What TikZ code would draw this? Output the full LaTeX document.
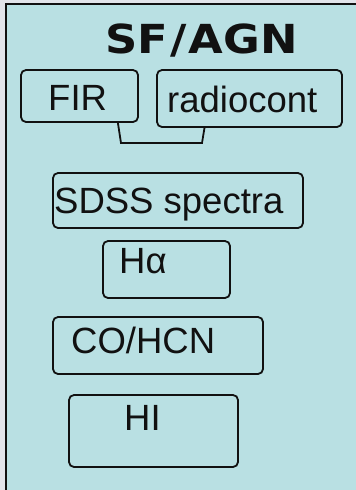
\documentclass[tikz,border=0pt]{standalone}
\usepackage{fontspec}
\setmainfont{Liberation Sans}
\newfontfamily\titlefont{DejaVu Sans}
\definecolor{panelbg}{HTML}{B9E0E3}
\definecolor{outerbg}{HTML}{E2E4EA}
\definecolor{ink}{HTML}{111111}
\begin{document}
\begin{tikzpicture}[x=1pt,y=-1pt,
  box/.style={draw=ink, line width=1.8pt, rounded corners=5pt, inner sep=0pt},
  lbl/.style={inner sep=0pt, anchor=base west, text=ink, font=\fontsize{36.5}{40}\selectfont},
  link/.style={draw=ink, line width=1.8pt}]
\useasboundingbox (0,0) rectangle (356,490);
\fill[outerbg] (0,0) rectangle (356,490);
\fill[panelbg] (5,3) rectangle (356,490);
\draw[ink, line width=2pt] (6,490) -- (6,4) -- (356,4);
% title
\node[inner sep=0pt, anchor=base, text=ink, font=\titlefont\bfseries\fontsize{40}{44}\selectfont, xscale=1.12] (title) at (201.5,53) {SF\kern2pt/\kern2pt AGN};
% boxes
\node[box, minimum width=117pt, minimum height=52pt] (fir) at (79.5,96) {};
\node[lbl] (firt) at (48,110.5) {FIR};
\node[box, minimum width=185pt, minimum height=57pt] (radio) at (249.5,98.5) {};
\node[lbl] (radiot) at (167,112) {radiocont};
\node[box, minimum width=250pt, minimum height=55pt] (sdss) at (178,200.5) {};
\node[lbl] (sdsst) at (54,213) {SDSS spectra};
\node[box, minimum width=127pt, minimum height=57pt] (ha) at (166.5,269.5) {};
\node[lbl] (hat) at (119,273) {Hα};
\node[box, minimum width=210pt, minimum height=57pt] (co) at (158,345.5) {};
\node[lbl] (cot) at (71,353) {CO/HCN};
\node[box, minimum width=169pt, minimum height=72pt] (hi) at (153.5,431) {};
\node[lbl] (hit) at (124,430) {HI};
% connector between FIR and radiocont
\coordinate (c1) at (121,143);
\coordinate (c2) at (202,143);
\draw[link] ([xshift=-21pt]fir.south east) -- (c1) -- (c2) -- ([xshift=-45pt]radio.south);
\end{tikzpicture}
\end{document}
